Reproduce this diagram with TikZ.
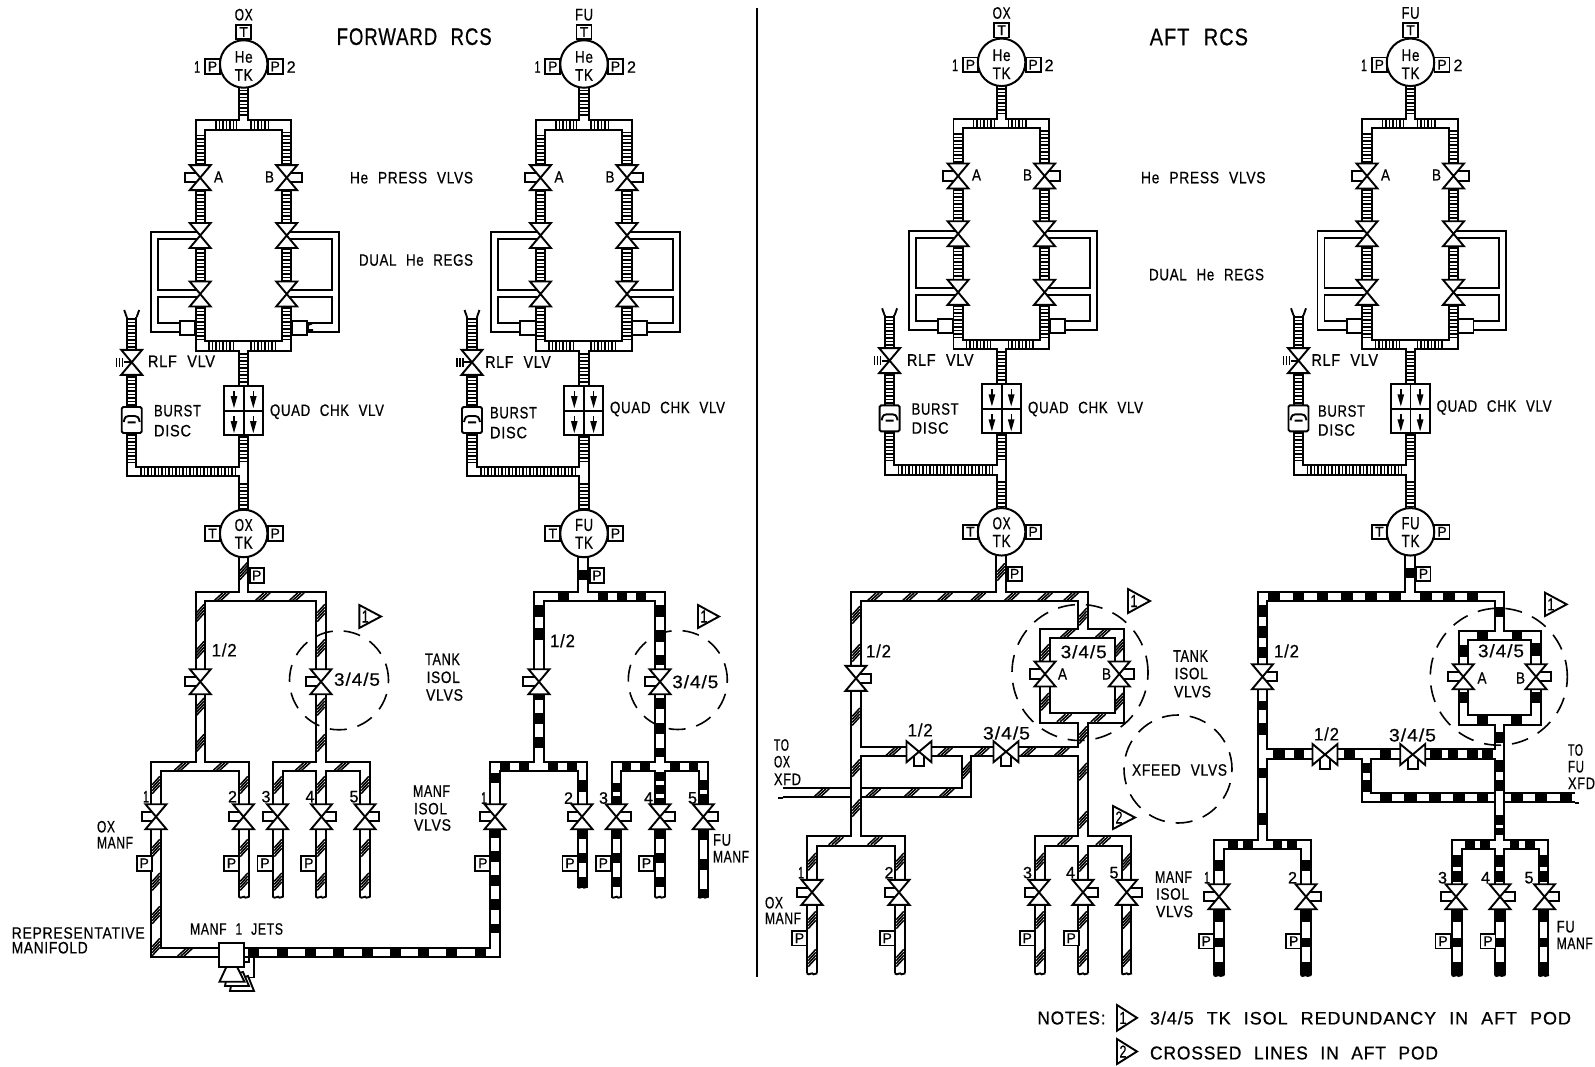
\documentclass[tikz,border=0pt]{standalone}
\usepackage{fontspec}
\usepackage{graphicx}
\newfontfamily\cad[LetterSpace=5,WordSpace=2.2,FakeBold=0.6]{Liberation Sans}
\newcounter{lb}
\newcommand\lbl[5]{\stepcounter{lb}\node[anchor=west,inner sep=0pt,outer sep=0pt] (lab\arabic{lb}) at (#1,#2) {\resizebox{#3pt}{#4pt}{\cad #5}};}
\tikzset{
 ln/.style={line width=1.9pt},
 pipe/.style={line width=1.9pt,double=white,double distance=7.4pt},
 lad/.style={line width=7.6pt,dash pattern=on 1.5pt off 2pt},
 fu/.style 2 args={line width=7.6pt,dash pattern=on #1pt off #2pt},
 hatchl/.style={line width=1.5pt},
 gauge/.style={draw,line width=1.9pt,fill=white,minimum width=15pt,minimum height=14.5pt,inner sep=0pt,font=\fontsize{14}{14}\cad},
 tank/.style={draw,circle,line width=2pt,fill=white,minimum size=47.5pt,inner sep=0pt},
 dcirc/.style={line width=1.6pt,dash pattern=on 17pt off 11pt},
}
% valves
\newcommand\vv[2]{\draw[ln,fill=white] (#1-10.5,#2-12.5)--(#1+10.5,#2-12.5)--(#1-10.5,#2+12.5)--(#1+10.5,#2+12.5)--cycle;}
\newcommand\va[3]{\draw[ln] (#1,#2-4.7)--(#3,#2-4.7)--(#3,#2+4.7)--(#1,#2+4.7);\vv{#1}{#2}}
\newcommand\vh[3]{\draw[ln] (#1-5,#2)--(#1-5,#3)--(#1+5,#3)--(#1+5,#2);\draw[ln,fill=white] (#1-12.5,#2-10.5)--(#1-12.5,#2+10.5)--(#1+12.5,#2-10.5)--(#1+12.5,#2+10.5)--cycle;}
% hatching
\newcommand\hh[2]{\foreach \p in {#2}{\foreach \d in {-3.2,0,3.2}{\draw[hatchl] (\p+\d-4.2,#1+3.8)--(\p+\d+4.2,#1-3.8);}}}
\newcommand\hv[2]{\foreach \p in {#2}{\foreach \d in {-4.5,-1.5,1.5,4.5}{\draw[hatchl] (#1-3.8,\p+\d+4.2)--(#1+3.8,\p+\d-4.2);}}}
% fuel blocks
\newcommand\fv[5]{\draw[fu={#4}{#5}] (#1,#2)--(#1,#3);}
\newcommand\fh[5]{\draw[fu={#4}{#5}] (#2,#1)--(#3,#1);}
\newcommand\lend[2]{\draw[ln] (#1-5.3,#2) .. controls (#1-3,#2+3) and (#1,#2-2) .. (#1+1.5,#2+1) -- (#1+5.3,#2);}
\newcommand\tri[5]{\draw[ln] (#1,#3)--(#2,#3/2+#4/2)--(#1,#4)--cycle;\lbl{#1+2.5}{#3/2+#4/2}{7}{12}{#5}}
\newcommand\qarrow[2]{\draw[line width=1.4pt] (#1,#2)--(#1,#2+7);\fill (#1-3.4,#2+5)--(#1+3.4,#2+5)--(#1,#2+17)--cycle;}
% upper module: helium system and propellant tank
\newcommand\module[5]{\begin{scope}[shift={(#1,#2)},name prefix=#5-]
 \draw[pipe] (0,87)--(0,125)
  (-43.5,165)--(-43.5,125)--(43,125)--(43,165)
  (-43.5,190)--(-43.5,223) (43,190)--(43,223)
  (-43.5,248)--(-43.5,282) (43,248)--(43,282)
  (-43.5,306)--(-43.5,346)--(43,346)--(43,306)
  (0,346)--(0,386) (0,435)--(0,511)
  (-112,374.8)--(-112,471.7)--(0,471.7) (-112,317)--(-112,350);
 \draw[lad] (0,90)--(0,118) (-28.7,125)--(-7,125) (6.3,125)--(26.3,125)
  (-43.5,135)--(-43.5,165) (43,132)--(43,165) (-43.5,191)--(-43.5,222) (43,191)--(43,222)
  (-43.5,249)--(-43.5,281) (43,249)--(43,281) (-43.5,307)--(-43.5,339) (43,307)--(43,339)
  (-35.7,346)--(-10.4,346) (6.3,346)--(33,346) (0,353)--(0,386) (0,436)--(0,461) (0,483)--(0,508)
  (-112,318)--(-112,349) (-112,376)--(-112,406) (-112,434)--(-112,463) (-103.7,471.7)--(-8.7,471.7);
 \draw[ln] (-43.5,232.3)--(-93,232.3)--(-93,331.7)--(-64,331.7)
  (-43.5,239.3)--(-86,239.3)--(-86,290)--(-43.5,290)
  (-43.5,297)--(-86,297)--(-86,323)--(-64,323)
  (43,232.3)--(95.6,232.3)--(95.6,331.7)--(63,331.7)
  (43,239.3)--(88.6,239.3)--(88.6,290)--(43,290)
  (43,297)--(88.6,297)--(88.6,323)--(63,323);
 \draw[ln,fill=white] (-63.7,320.7) rectangle (-48.5,335) (48,320.7) rectangle (63,335);
 \va{-43.5}{177.7}{-58.7}\va{43}{177.7}{58.6}
 \vv{-43.5}{235.5}\vv{43}{235.5}\vv{-43.5}{294}\vv{43}{294}
 \draw[ln] (-112,362.3)--(-120,362.3);
 \draw[line width=1.4pt] (-121,358)--(-121,367) (-124,358)--(-124,367) (-127,358)--(-127,367);
 \vv{-112}{362.3}
 \draw[ln] (-117,317)--(-119.5,310) (-107,317)--(-104.5,310);
 \draw[ln,fill=white,rounded corners=1.5pt] (-122,407) rectangle (-102,433);
 \draw[ln] (-120,422) .. controls (-119,416.5) and (-117,416) .. (-115,416) -- (-109,416) .. controls (-107,416) and (-105,416.5) .. (-104,422) (-116,422.3)--(-108,422.3);
 \draw[ln,fill=white] (-19.7,386) rectangle (19.3,435);
 \draw[ln] (0,386)--(0,435) (-19.7,410.7)--(19.3,410.7);
 \qarrow{-9.7}{391}\qarrow{9.6}{391}\qarrow{-9.7}{416}\qarrow{9.6}{416}
 \node[gauge] (tt) at (0,32) {T};
 \node[gauge] (p1) at (-31.2,66.5) {P};
 \node[gauge] (p2) at (31.5,66.5) {P};
 \node[tank] (he) at (0,64) {};
 \lbl{-9}{57}{18}{11.5}{He}\lbl{-9}{75}{18}{11.5}{TK}
 \lbl{-9}{14.7}{18}{11.5}{#3}
 \lbl{-49.5}{67}{6}{11.5}{1}\lbl{43}{67}{9}{11.5}{2}
 \node[gauge] (tg) at (-31.2,533.5) {T};
 \node[gauge] (pg) at (31.5,533.5) {P};
 \node[gauge,minimum width=14pt] (ps) at (13,575.5) {P};
 \node[tank] (pt) at (0,533.5) {};
 \lbl{-9}{525}{18}{12}{#4}\lbl{-9}{542.7}{18}{12}{TK}
 \end{scope}}
\begin{document}
\begin{tikzpicture}[x=1pt,y=-1pt,line cap=butt]
\useasboundingbox (0,0) rectangle (1595,1067);
\fill[white] (0,0) rectangle (1595,1067);
\draw[line width=2pt] (757,8)--(757,977);

%====== forward OX lower
\draw[pipe] (243.7,554)--(243.7,596.7)
 (200.3,669.2)--(200.3,596.7)--(321,596.7)--(321,669.2)
 (200.3,694.2)--(200.3,766.5) (321,694.2)--(321,766.5)
 (156,804.2)--(156,766.5)--(244,766.5)--(244,804.2)
 (278,804.2)--(278,766.5)--(365,766.5)--(365,804.2) (321,804.2)--(321,766.5)
 (244,829.2)--(244,896.7) (278,829.2)--(278,896.7) (321,829.2)--(321,896.7) (365,829.2)--(365,896.7)
 (156,829.2)--(156,952.3)--(222,952.3);
\draw[pipe] (240,952.3)--(495,952.3)--(495,829.2);
\hv{243.7}{571}
\hh{596.7}{221.7,262.7,296.7}
\hv{200.3}{613,650,706.7,743}\hv{321}{613,648,706.7,743}
\hh{766.5}{181.7,220.7,302.7,341.7}
\hv{156}{785,848,881.7,915,947}\hv{244}{785,848,881.7}\hv{278}{785,848,881.7}\hv{321}{785,848,881.7}\hv{365}{785,848,881.7}
\hh{952.3}{185}
\lend{244}{896.7}\lend{278}{896.7}\lend{321}{896.7}\lend{365}{896.7}
\va{200.3}{681.7}{185}\va{321}{681.7}{306}
\va{156}{816.7}{141.7}\va{243.5}{816.7}{229}\va{277.5}{816.7}{262.7}\va{321.5}{816.7}{336}\va{365}{816.7}{379}
\node[gauge] (fop1) at (144.2,863.3) {P};
\node[gauge] (fop2) at (231.5,863.3) {P};
\node[gauge] (fop3) at (265,863.3) {P};
\node[gauge] (fop4) at (308.8,863.3) {P};
\draw[dcirc] (339,680.3) circle (49.5pt);
% jets
\draw[ln] (244,962)--(249,962)--(249,958) (254,958)--(254,977.5)--(246,977.5);
\draw[ln,fill=white] (232,981)--(230,991)--(254,991)--(248,976)--cycle;
\draw[ln,fill=white] (227,976)--(225,986)--(249,986)--(243,972)--cycle;
\draw[ln,fill=white] (226.5,966.7)--(219.5,981.7)--(244.5,981.7)--(237,966.7)--cycle;
\draw[ln,fill=white] (219.3,942.7) rectangle (244.3,966.7);

%====== forward FU lower
\draw[pipe] (583,554)--(583,596.7)
 (539,669.2)--(539,596.7)--(660,596.7)--(660,669.2)
 (539,694.2)--(539,766.5) (660,694.2)--(660,766.5)
 (495,804.2)--(495,766.5)--(582.5,766.5)--(582.5,804.2)
 (616.7,804.2)--(616.7,766.5)--(703.3,766.5)--(703.3,804.2) (660,804.2)--(660,766.5)
 (582.5,829.2)--(582.5,886.7) (616.7,829.2)--(616.7,896.7) (660,829.2)--(660,896.7) (703.3,829.2)--(703.3,896.7);
\fv{583}{570}{580}{99}{1}
\fh{596.7}{557.7}{569}{99}{1}\fh{596.7}{598}{646}{10}{9}
\fv{539}{605}{640}{12}{11}\fv{539}{694}{700}{99}{1}\fv{539}{712.7}{748.3}{11.5}{13}
\fv{660}{605}{665}{12}{13}\fv{660}{698}{757}{10.5}{14.5}
\fh{766.5}{500}{530}{10}{9}\fh{766.5}{548}{577.7}{10}{9}\fh{766.5}{621.7}{650}{9.5}{9}\fh{766.5}{670}{698.3}{10}{9}
\fv{495}{772.7}{783.3}{99}{1}\fv{582.5}{780}{791.7}{99}{1}
\fv{616.7}{783}{804}{9}{4}\fv{660}{772}{804}{9}{4}\fv{703.3}{780}{804}{10}{4}
\fv{495}{829}{838}{99}{1}\fv{495}{850.7}{933.3}{11}{13.3}
\fv{582.5}{829}{887}{10}{14}\fv{616.7}{829}{897}{10}{14}\fv{660}{829}{897}{10}{14}\fv{703.3}{829}{897}{11}{19}
\fh{952.3}{248.3}{486}{11}{17.3}
\lend{582.5}{886.7}\lend{616.7}{896.7}\lend{660}{896.7}\lend{703.3}{896.7}
\va{539}{681.7}{523.3}\va{660}{681.7}{645}
\va{495}{816.7}{480}\va{582}{816.7}{567.7}\va{616.3}{816.7}{631}\va{660}{816.7}{675}\va{703.3}{816.7}{718}
\node[gauge] (ffp1) at (482.8,863.3) {P};
\node[gauge] (ffp2) at (570,863.3) {P};
\node[gauge] (ffp3) at (603.3,863.3) {P};
\node[gauge] (ffp4) at (646.5,863.3) {P};
\draw[dcirc] (677.8,680) circle (49.5pt);

%====== aft OX lower
\draw[pipe] (1001,554)--(1001,596.7)
 (856,665.8)--(856,596.7)--(1083,596.7)--(1083,633.3)
 (1045,661.5)--(1045,633.3)--(1119.3,633.3)--(1119.3,661.5)
 (1045,686.5)--(1045,718)--(1119.3,718)--(1119.3,686.5)
 (1083,718)--(1083,841)
 (856,690.8)--(856,841)
 (856,751.7)--(906.5,751.7) (931.5,751.7)--(993.5,751.7) (1018.5,751.7)--(1083,751.7)
 (966.7,751.7)--(966.7,792.7)--(783,792.7)
 (812,879.8)--(812,841)--(900,841)--(900,879.8)
 (1040,879.8)--(1040,841)--(1126.7,841)--(1126.7,879.8)
 (1083,841)--(1083,879.8)
 (812,904.8)--(812,973.3) (900,904.8)--(900,973.3) (1040,904.8)--(1040,973.3) (1083,904.8)--(1083,973.3) (1126.7,904.8)--(1126.7,973.3);
\draw[pipe] (856,778)--(856,807);
\draw[ln] (783,797.7)--(778,797.7);
\hv{1001}{572}
\hh{596.7}{875,910,945,978.3,1011.7,1045,1071}
\hv{856}{615,653,716.7,768,808}
\hv{1083}{616.7,735,771.7,820}
\hh{633.3}{1068,1103}\hv{1045}{653,701.7}\hv{1119.3}{648,701.7}\hh{718}{1064.3,1098.3}
\hh{751.7}{893.3,945,981.7,1028.3,1061.7}
\hv{966.7}{770}\hh{792.7}{821.7,873.3,911.7,946.7}
\hh{841}{836,875,1065,1103.3}
\hv{812}{861.7,920,958}\hv{900}{861.7,920,958}\hv{1040}{861.7,920,958}\hv{1083}{863,920,958}\hv{1126.7}{861.7,920,958}
\lend{812}{973.3}\lend{900}{973.3}\lend{1040}{973.3}\lend{1083}{973.3}\lend{1126.7}{973.3}
\va{856}{678.3}{871}
\va{1045}{674}{1030}\va{1119.3}{674}{1134}
\vh{919}{751.7}{766}\vh{1006}{751.7}{766}
\va{812}{892.3}{797.3}\va{899}{892.3}{884.7}\va{1039}{892.3}{1025}\va{1083}{892.3}{1098}\va{1126.7}{892.3}{1142.3}
\node[gauge] (aop1) at (799.5,938.2) {P};
\node[gauge] (aop2) at (887.2,938.2) {P};
\node[gauge] (aop3) at (1027.2,938.2) {P};
\node[gauge] (aop4) at (1071.2,938.2) {P};
\draw[dcirc] (1080,672.5) circle (68pt);
\draw[dcirc] (1178,769) circle (54pt);

%====== aft FU lower
\draw[pipe] (1410,554)--(1410,596.7)
 (1262.5,664.2)--(1262.5,596.7)--(1499.5,596.7)--(1499.5,635.7)
 (1463.3,664.2)--(1463.3,635.7)--(1536,635.7)--(1536,664.2)
 (1463.3,689.2)--(1463.3,720)--(1536,720)--(1536,689.2)
 (1499.5,720)--(1499.5,844.3)
 (1262.5,689.2)--(1262.5,844.3)
 (1262.5,754)--(1312.5,754) (1337.5,754)--(1400.2,754) (1425.2,754)--(1499.5,754)
 (1366.7,754)--(1366.7,797.7)--(1575,797.7)
 (1219,884.2)--(1219,844.3)--(1306,844.3)--(1306,884.2)
 (1457,884.2)--(1457,844.3)--(1543.7,844.3)--(1543.7,884.2)
 (1499.5,844.3)--(1499.5,884.2)
 (1219,909.2)--(1219,975) (1306,909.2)--(1306,975) (1457,909.2)--(1457,975) (1500,909.2)--(1500,975) (1543.7,909.2)--(1543.7,975);
\draw[pipe] (1499.5,785)--(1499.5,810);
\draw[ln] (1575,792.7)--(1571.7,792.7) (1575,802.7)--(1579,802.7);
\fv{1410}{568}{578}{99}{1}
\fh{596.7}{1268.3}{1401.7}{11.7}{12.5}\fh{596.7}{1420}{1478.3}{11.7}{11.7}
\fv{1262.5}{605}{658}{12}{9}\fv{1262.5}{701}{710}{99}{1}\fv{1262.5}{723}{735}{99}{1}\fv{1262.5}{768}{778}{99}{1}\fv{1262.5}{813}{825}{99}{1}
\fh{754}{1273}{1285}{99}{1}\fh{754}{1294}{1304}{99}{1}\fh{754}{1344}{1355}{99}{1}\fh{754}{1380}{1390.7}{99}{1}
\fh{754}{1430}{1441.7}{99}{1}\fh{754}{1448}{1458}{99}{1}\fh{754}{1466.7}{1478}{99}{1}\fh{754}{1482}{1493}{99}{1}
\fv{1366.7}{762.7}{772.7}{99}{1}\fv{1366.7}{780}{791.7}{99}{1}
\fh{797.7}{1380}{1488.3}{12.3}{12}\fh{797.7}{1510.7}{1572}{12}{12.5}
\fh{635.7}{1476.7}{1488.3}{99}{1}\fh{635.7}{1511.7}{1522.3}{99}{1}
\fv{1463.3}{645}{657.3}{99}{1}\fv{1463.3}{691.7}{703.3}{99}{1}\fv{1536}{643}{656}{99}{1}\fv{1536}{691.7}{703.3}{99}{1}
\fh{720}{1476.7}{1488.3}{99}{1}\fh{720}{1511}{1522.3}{99}{1}
\fv{1499.5}{606.7}{617.3}{99}{1}\fv{1499.5}{731.7}{743.3}{99}{1}\fv{1499.5}{760}{771.7}{99}{1}\fv{1499.5}{780}{791}{99}{1}\fv{1499.5}{815}{825}{99}{1}\fv{1499.5}{828}{835}{99}{1}
\fh{844.3}{1228.3}{1238.3}{99}{1}\fh{844.3}{1243.3}{1253.3}{99}{1}\fh{844.3}{1272.7}{1281.7}{99}{1}\fh{844.3}{1287.3}{1296.7}{99}{1}
\fh{844.3}{1465}{1475}{99}{1}\fh{844.3}{1480}{1490}{99}{1}\fh{844.3}{1510}{1519}{99}{1}\fh{844.3}{1525}{1535}{99}{1}
\fv{1219}{860}{870.7}{99}{1}\fv{1306}{860}{870.7}{99}{1}
\fv{1457}{855}{882}{11.5}{4.5}\fv{1500}{855}{882}{11.5}{4.5}\fv{1543.7}{855}{882}{11.5}{4.5}
\foreach \q in {1219,1306,1457,1500,1543.7}{\fv{\q}{910}{921.7}{99}{1}\fv{\q}{938}{947}{99}{1}\fv{\q}{961.7}{975}{99}{1}}
\lend{1219}{975}\lend{1306}{975}\lend{1457}{975}\lend{1500}{975}\lend{1543.7}{975}
\va{1262.5}{676.7}{1277.3}
\va{1463.3}{676.7}{1448.3}\va{1536}{676.7}{1550.7}
\vh{1325}{754.5}{769.3}\vh{1412.7}{754.5}{769.3}
\va{1219}{896.7}{1204}\va{1306}{896.7}{1321}\va{1456}{896.7}{1441}\va{1500}{896.7}{1515}\va{1544.5}{896.7}{1559}
\node[gauge] (afp1) at (1206.2,941.2) {P};
\node[gauge] (afp2) at (1293.7,941.2) {P};
\node[gauge] (afp3) at (1443,941.2) {P};
\node[gauge] (afp4) at (1488,941.2) {P};
\draw[dcirc] (1498.8,676.7) circle (68.5pt);

%====== upper modules
\module{243.7}{0}{OX}{OX}{m1}
\module{584}{0}{FU}{FU}{m2}
\module{1001.6}{-1.7}{OX}{OX}{m3}
\module{1410.5}{-1.7}{FU}{FU}{m4}
\draw[ln] (308,325)--(312,323.5) (308,330)--(313,330) (308,325)--(308,330);

%====== texts
\lbl{336.7}{36.7}{155}{16.7}{FORWARD RCS}
\lbl{1149.7}{37}{98.3}{16.7}{AFT RCS}
\lbl{350}{177.7}{123}{11.5}{He PRESS VLVS}
\lbl{1141}{177.6}{124.5}{11.5}{He PRESS VLVS}
\lbl{359}{260}{114}{11.5}{DUAL He REGS}
\lbl{1149}{274.6}{115}{11.5}{DUAL He REGS}
\lbl{148}{361.3}{67}{11.5}{RLF VLV}
\lbl{485.3}{362}{65.4}{11.5}{RLF VLV}
\lbl{907}{360}{66.5}{11.5}{RLF VLV}
\lbl{1311.5}{360}{66.5}{11.5}{RLF VLV}
\lbl{270}{411.7}{114}{11.5}{QUAD CHK VLV}
\lbl{610}{409}{115}{11.5}{QUAD CHK VLV}
\lbl{1028}{409}{115}{11.5}{QUAD CHK VLV}
\lbl{1436.6}{407.5}{115}{11.5}{QUAD CHK VLV}
\lbl{154}{410.7}{47}{11.5}{BURST}\lbl{154}{430.7}{37}{11.5}{DISC}
\lbl{490}{412.7}{47}{11.5}{BURST}\lbl{490}{432.6}{37}{11.5}{DISC}
\lbl{911.6}{409}{47}{11.5}{BURST}\lbl{911.6}{428}{37}{11.5}{DISC}
\lbl{1318}{411}{47}{11.5}{BURST}\lbl{1318}{430}{37}{11.5}{DISC}
\lbl{214}{177}{9}{11}{A}\lbl{265}{177}{9}{11}{B}
\lbl{554.5}{177}{9}{11}{A}\lbl{605.5}{177}{9}{11}{B}
\lbl{972}{175}{9}{11}{A}\lbl{1023}{175}{9}{11}{B}
\lbl{1381}{175}{9}{11}{A}\lbl{1432}{175}{9}{11}{B}
% forward OX
\lbl{211.7}{650}{25}{13}{1/2}\lbl{334}{679.3}{46}{13}{3/4/5}
\lbl{425}{659.3}{35}{11.5}{TANK}\lbl{426.7}{677.3}{33}{11.5}{ISOL}\lbl{426}{695}{37}{11.5}{VLVS}
\lbl{413}{791}{37}{11.5}{MANF}\lbl{414}{808.7}{33}{11.5}{ISOL}\lbl{414}{825}{37}{11.5}{VLVS}
\tri{359.3}{381}{605}{628}{1}
\lbl{143}{796.7}{6}{11.5}{1}\lbl{228}{796.7}{9}{11.5}{2}\lbl{261.5}{796.7}{9}{11.5}{3}\lbl{305.5}{796.7}{9}{11.5}{4}\lbl{349.5}{796.7}{9}{11.5}{5}
\lbl{97}{826.7}{18}{11.5}{OX}\lbl{97}{842.7}{36}{11.5}{MANF}
\lbl{11.7}{933}{133}{11.5}{REPRESENTATIVE}\lbl{11.7}{947.7}{76}{11.5}{MANIFOLD}
\lbl{190}{929}{93}{11.5}{MANF 1 JETS}
% forward FU
\lbl{550}{640.7}{25}{13}{1/2}\lbl{672.3}{681.7}{46}{13}{3/4/5}
\tri{698}{719}{605}{628}{1}
\lbl{481}{798}{6}{11.5}{1}\lbl{564}{798}{9}{11.5}{2}\lbl{599}{798}{9}{11.5}{3}\lbl{644}{798}{9}{11.5}{4}\lbl{688}{798}{9}{11.5}{5}
\lbl{713}{840}{18}{11.5}{FU}\lbl{713}{856.7}{36}{11.5}{MANF}
% aft OX
\lbl{866}{651}{25}{13}{1/2}\lbl{1060.7}{651.7}{46}{13}{3/4/5}
\lbl{1058}{674}{9}{11}{A}\lbl{1102}{674}{9}{11}{B}
\lbl{907.7}{730}{25}{13}{1/2}\lbl{983}{733}{47}{13}{3/4/5}
\lbl{1173}{656}{35}{11.5}{TANK}\lbl{1174.7}{673.5}{33}{11.5}{ISOL}\lbl{1174}{691.7}{37}{11.5}{VLVS}
\lbl{1132}{770}{95}{11.5}{XFEED VLVS}
\lbl{774}{745}{15}{11.5}{TO}\lbl{774}{761.7}{16}{11.5}{OX}\lbl{774}{779.3}{27}{11.5}{XFD}
\tri{1128}{1150}{589}{613}{1}\tri{1113}{1135}{806}{829}{2}
\lbl{798}{872.7}{6}{11.5}{1}\lbl{884.5}{872.7}{9}{11.5}{2}\lbl{1023}{872.7}{9}{11.5}{3}\lbl{1066}{872.7}{9}{11.5}{4}\lbl{1109.5}{872.7}{9}{11.5}{5}
\lbl{765}{902.7}{18}{11.5}{OX}\lbl{765}{918.3}{36}{11.5}{MANF}
\lbl{1155}{877}{37}{11.5}{MANF}\lbl{1156}{894}{33}{11.5}{ISOL}\lbl{1156}{911.5}{37}{11.5}{VLVS}
% aft FU
\lbl{1274}{651}{25}{13}{1/2}\lbl{1478}{650.7}{46}{13}{3/4/5}
\lbl{1477.5}{678}{9}{11}{A}\lbl{1516}{678}{9}{11}{B}
\lbl{1314}{734}{25}{13}{1/2}\lbl{1389}{735}{47}{13}{3/4/5}
\lbl{1568}{750}{15}{11.5}{TO}\lbl{1568}{766.7}{16}{11.5}{FU}\lbl{1568}{783.3}{27}{11.5}{XFD}
\tri{1545}{1566.7}{592.7}{616}{1}
\lbl{1204}{877.7}{6}{11.5}{1}\lbl{1288}{877.7}{9}{11.5}{2}\lbl{1438}{877.7}{9}{11.5}{3}\lbl{1481}{877.7}{9}{11.5}{4}\lbl{1524.5}{877.7}{9}{11.5}{5}
\lbl{1556.7}{926.7}{18}{11.5}{FU}\lbl{1556.7}{943.3}{36}{11.5}{MANF}
% notes
\lbl{1037.5}{1018}{68}{13}{NOTES:}
\tri{1117}{1137}{1005}{1030.7}{1}
\lbl{1150}{1018}{421}{13}{3/4/5 TK ISOL REDUNDANCY IN AFT POD}
\tri{1117}{1137}{1039}{1064}{2}
\lbl{1150}{1053}{288}{13}{CROSSED LINES IN AFT POD}
\end{tikzpicture}
\end{document}
